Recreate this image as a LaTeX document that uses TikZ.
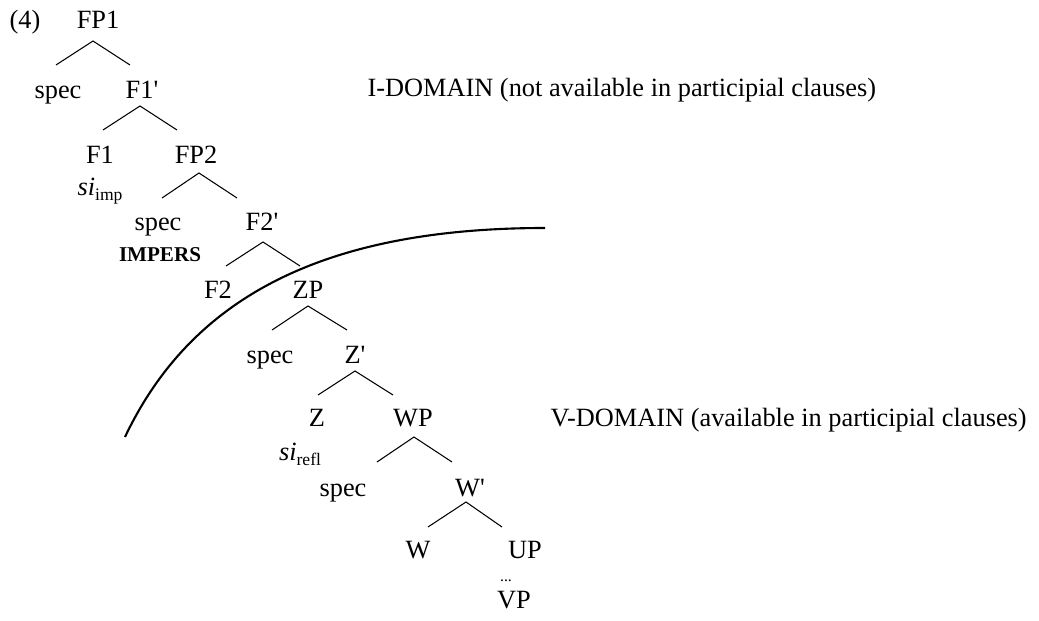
\documentclass[tikz,border=0pt]{standalone}
\usepackage{fontspec}
\setmainfont{Liberation Serif}
\usetikzlibrary{positioning}
\newcommand{\sisub}[1]{\textit{si}\raisebox{-2.5pt}{\fontsize{10}{12}\selectfont #1}}
\newcommand{\pr}{\textquotesingle}

\begin{document}
\begin{tikzpicture}[x=0.02cm, y=-0.02cm, line width=0.6pt,
    every node/.style={inner sep=0pt, text height=10pt, text depth=0pt,
      font=\fontsize{15}{18}\selectfont}]
  \useasboundingbox (0,0) rectangle (1039,621);
  % tree nodes
  \node (ex) at (25,20) {(4)};
  \node (fp1) at (98,20) {FP1};
  \node (spec1) at (58,90) {spec};
  \node (f1bar) at (142,90) {F1\pr};
  \node (f1) at (100,155) {F1};
  \node (siimp) at (100,187) {\sisub{imp}};
  \node (fp2) at (196,155) {FP2};
  \node (spec2) at (158,222) {spec};
  \node[font=\fontsize{12}{14}\selectfont\bfseries] (impers) at (160,253) {IMPERS};
  \node (f2bar) at (262,222) {F2\pr};
  \node (f2) at (218,290) {F2};
  \node (zp) at (308,290) {ZP};
  \node (spec3) at (270,355) {spec};
  \node (zbar) at (355,355) {Z\pr};
  \node (z) at (317,418) {Z};
  \node (sirefl) at (300,452) {\sisub{refl}};
  \node (wp) at (413,418) {WP};
  \node (spec4) at (343,488) {spec};
  \node (wbar) at (470,488) {W\pr};
  \node (w) at (418,550) {W};
  \node (up) at (525,550) {UP};
  \node[font=\fontsize{9}{10}\selectfont, text height=2pt] (dots) at (506,580) {...};
  \node (vp) at (514,600) {VP};
  % domain labels
  \node[anchor=west] (idom) at (367,88) {I-DOMAIN (not available in participial clauses)};
  \node[anchor=west] (vdom) at (550,418) {V-DOMAIN (available in participial clauses)};
  % branches
  \draw ([shift={(-2,-25)}]spec1.center) -- ([shift={(-5,21)}]fp1.center) -- ([shift={(-12,-25)}]f1bar.center);
  \draw ([shift={(3,-25)}]f1.center) -- ([shift={(-2,16)}]f1bar.center) -- ([shift={(-19,-25)}]fp2.center);
  \draw ([shift={(4,-24)}]spec2.center) -- ([shift={(3,18)}]fp2.center) -- ([shift={(-25,-24)}]f2bar.center);
  \draw ([shift={(8,-24)}]f2.center) -- ([shift={(1,20)}]f2bar.center) -- ([shift={(-8,-24)}]zp.center);
  \draw ([shift={(2,-25)}]spec3.center) -- ([shift={(0,16)}]zp.center) -- ([shift={(-8,-25)}]zbar.center);
  \draw ([shift={(1,-23)}]z.center) -- ([shift={(0,16)}]zbar.center) -- ([shift={(-20,-23)}]wp.center);
  \draw ([shift={(34,-26)}]spec4.center) -- ([shift={(1,19)}]wp.center) -- ([shift={(-18,-26)}]wbar.center);
  \draw ([shift={(10,-23)}]w.center) -- ([shift={(-4,14)}]wbar.center) -- ([shift={(-23,-23)}]up.center);
  % domain boundary
  \draw[line width=1.2pt] (125,437) .. controls (190,300) and (320,228) .. (545,228);
\end{tikzpicture}
\end{document}
